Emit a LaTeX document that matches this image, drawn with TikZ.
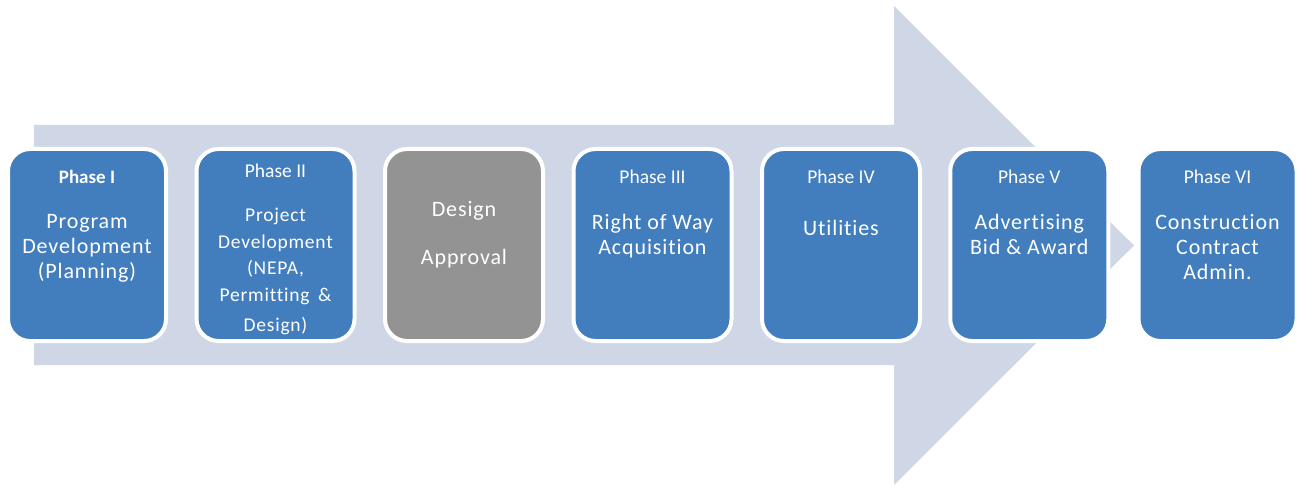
\documentclass[tikz,border=0pt]{standalone}
\usepackage{fontspec}
\setmainfont{Carlito}
\newfontfamily\spaced[LetterSpace=4,Ligatures={NoCommon}]{Carlito}
\definecolor{arrowbg}{HTML}{CFD7E6}
\definecolor{boxblue}{HTML}{427DBD}
\definecolor{boxgray}{HTML}{939393}
\begin{document}
\begin{tikzpicture}[x=1pt,y=-1pt,
  phasebox/.style={draw=white, line width=4pt, fill=boxblue, rounded corners=22pt,
    minimum width=158pt, minimum height=192pt, inner sep=0pt},
  graybox/.style={phasebox, fill=boxgray},
  phaselabel/.style={text=white, font=\fontsize{19.5}{22}\selectfont, inner sep=0pt},
  maintext/.style={text=white, align=center, inner sep=0pt,
    font=\fontsize{22}{25}\spaced},
  smalltext/.style={text=white, align=center, inner sep=0pt,
    font=\fontsize{19.5}{26.5}\spaced}]
\useasboundingbox (0,0) rectangle (1301,486);
% big background arrow
\fill[arrowbg] (34,125) -- (894,125) -- (894,6) -- (1134,245.5) -- (894,485) -- (894,365) -- (34,365) -- cycle;
% boxes
\node[phasebox] (b1) at (87,245) {};
\node[phasebox] (b2) at (275.5,245) {};
\node[graybox]  (b3) at (464,245) {};
\node[phasebox] (b4) at (652.5,245) {};
\node[phasebox] (b5) at (841,245) {};
\node[phasebox] (b6) at (1029.25,245) {};
\node[phasebox] (b7) at (1217.5,245) {};
% texts
\node[phaselabel, font=\fontsize{19}{22}\selectfont\bfseries] (l1) at (87,177) {Phase I};
\node[maintext, anchor=north] (t1) at (87,214) {Program\\Development\\(Planning)};
\node[phaselabel] (l2) at (275.5,171) {Phase II};
\node[smalltext, anchor=north] (t2) at (275.5,208) {Project\\Development\\(NEPA,\\Permitting \,\&\\[4pt]Design)};
\node[maintext, font=\fontsize{22}{48}\spaced] (t3) at (464,235) {Design\\Approval};
\node[phaselabel] (l4) at (652.5,177) {Phase III};
\node[maintext, anchor=north] (t4) at (652.5,214) {Right of Way\\Acquisition};
\node[phaselabel] (l5) at (841,177) {Phase IV};
\node[maintext] (t5) at (841,228) {Utilities};
\node[phaselabel] (l6) at (1029.25,177) {Phase V};
\node[maintext, anchor=north] (t6) at (1029.25,214) {Advertising\\Bid \& Award};
\node[phaselabel] (l7) at (1217.5,177) {Phase VI};
\node[maintext, anchor=north] (t7) at (1217.5,214) {Construction\\Contract\\Admin.};
\end{tikzpicture}
\end{document}
